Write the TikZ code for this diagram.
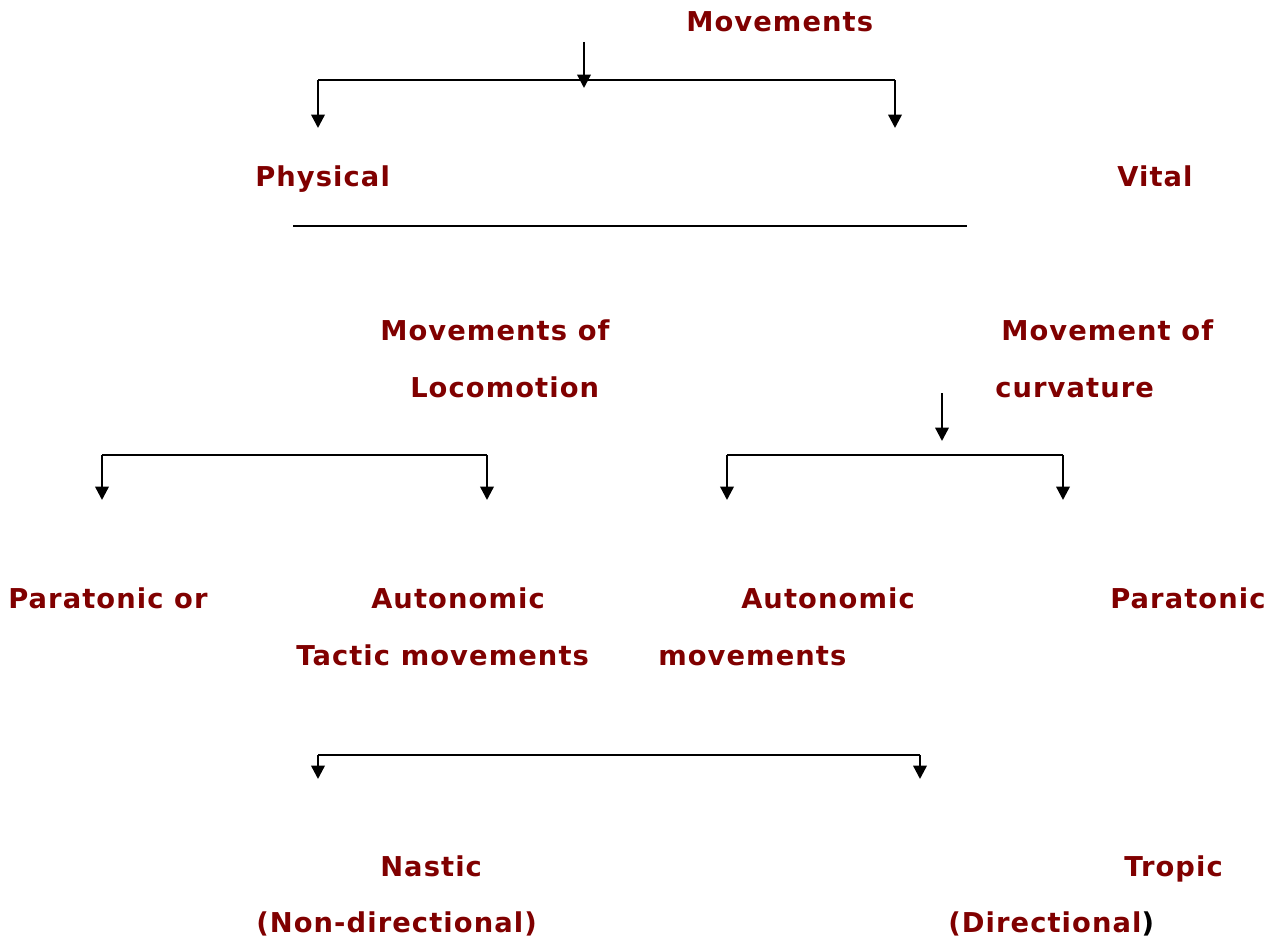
\documentclass[tikz,border=0pt]{standalone}
\usepackage{fontspec}
\setmainfont{DejaVu Sans}[LetterSpace=4]
\usetikzlibrary{arrows.meta}
\definecolor{lbl}{HTML}{800000}
\begin{document}
\begin{tikzpicture}[x=0.75pt,y=-0.75pt,
  lab/.style={anchor=base west,inner sep=0pt,text=lbl,font=\fontsize{20.5}{24}\selectfont\bfseries},
  ln/.style={line width=1.8pt},
  arr/.style={line width=1.8pt,-{Triangle[width=10pt,length=10pt]}}]
\useasboundingbox (0,0) rectangle (1267,941);
% labels
\node[lab] (mov) at (686,32) {Movements};
\node[lab] (phys) at (255,187) {Physical};
\node[lab] (vital) at (1117,187) {Vital};
\node[lab] (movof) at (380,340) {Movements of};
\node[lab] (loco) at (410,397) {Locomotion};
\node[lab] (movcur) at (1001,340) {Movement of};
\node[lab] (curv) at (995,397) {curvature};
\node[lab] (paraor) at (8,608) {Paratonic or};
\node[lab] (auto1) at (371,608) {Autonomic};
\node[lab] (tactic) at (296,665) {Tactic movements};
\node[lab] (auto2) at (741,608) {Autonomic};
\node[lab] (movs) at (658,665) {movements};
\node[lab] (para) at (1110,608) {Paratonic};
\node[lab] (nastic) at (380,876) {Nastic};
\node[lab] (nondir) at (256,932) {(Non-directional)};
\node[lab] (tropic) at (1124,876) {Tropic};
\node[lab] (dir) at (948,932) {(Directional\textcolor{black}{)}};
% coordinates
\coordinate (t0) at (584,42); \coordinate (t1) at (584,88);
\coordinate (tl) at (318,80); \coordinate (tr) at (895,80);
\coordinate (tla) at (318,128); \coordinate (tra) at (895,128);
\coordinate (hl) at (293,226); \coordinate (hr) at (967,226);
\coordinate (c0) at (942,393); \coordinate (c1) at (942,441);
\coordinate (ll) at (102,455); \coordinate (lr) at (487,455);
\coordinate (lla) at (102,500); \coordinate (lra) at (487,500);
\coordinate (rl) at (727,455); \coordinate (rr) at (1063,455);
\coordinate (rla) at (727,500); \coordinate (rra) at (1063,500);
\coordinate (bl) at (318,755); \coordinate (br) at (920,755);
\coordinate (bla) at (318,779); \coordinate (bra) at (920,779);
% connectors
\draw[arr] (t0) -- (t1);
\draw[ln] (tl) -- (tr);
\draw[arr] (tl) -- (tla);
\draw[arr] (tr) -- (tra);
\draw[ln,line width=2.2pt] (hl) -- (hr);
\draw[arr] (c0) -- (c1);
\draw[ln] (ll) -- (lr);
\draw[arr] (ll) -- (lla);
\draw[arr] (lr) -- (lra);
\draw[ln] (rl) -- (rr);
\draw[arr] (rl) -- (rla);
\draw[arr] (rr) -- (rra);
\draw[ln] (bl) -- (br);
\draw[arr] (bl) -- (bla);
\draw[arr] (br) -- (bra);
\end{tikzpicture}
\end{document}
